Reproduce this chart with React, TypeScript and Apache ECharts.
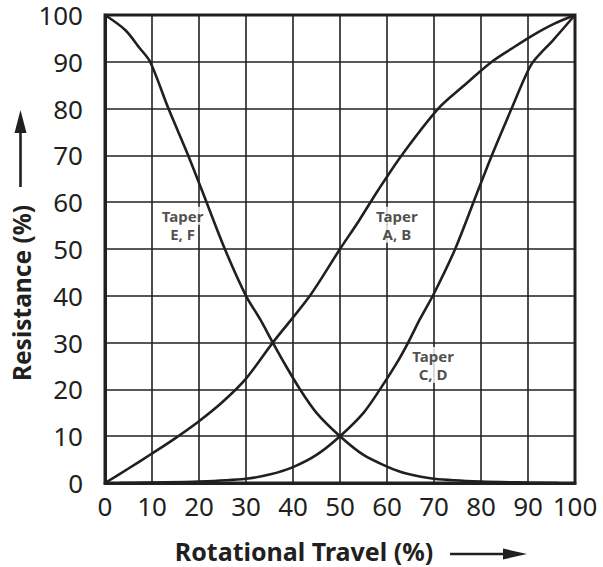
import React, { useEffect, useRef } from "react";
import * as echarts from "echarts";

const xTicks = [0, 10, 20, 30, 40, 50, 60, 70, 80, 90, 100];

const taperAB: [number, number][] = [
  [0, 0], [5, 3.1], [10, 6.3], [15, 9.6], [20, 13.2], [25, 17.3], [30, 22.3],
  [35.7, 30], [43.6, 40], [50, 50], [54, 56], [58, 62.4], [63.1, 70], [70.9, 80],
  [76, 84.6], [82.3, 90], [86.5, 92.8], [91.1, 95.7], [95.5, 98.1], [100, 100],
];

const taperCD: [number, number][] = [
  [3, 0], [10, 0.1], [20, 0.3], [30, 0.9], [35, 1.8], [40, 3.4], [45, 6], [50, 10],
  [55, 15], [58.5, 20], [62, 25.5], [64.5, 30], [67, 35], [70, 40.5], [74.5, 50],
  [79.4, 62.6], [82.3, 70], [86.5, 80], [89.4, 86.8], [91.1, 90], [95.4, 94.7], [100, 100],
];

const taperEF: [number, number][] = [
  [0, 100], [4.3, 96.8], [7.4, 92.9], [9.6, 90], [13.5, 80], [17.7, 70], [20.6, 62.6],
  [25.5, 50], [30, 40], [33, 35], [35.7, 30], [38.5, 25], [41.5, 20], [45, 15], [50, 10],
  [55, 6], [60, 3.5], [62.8, 2.4], [65, 1.8], [70, 0.9], [80, 0.3], [90, 0.1], [96.5, 0],
];

const labelX = [16.5, 62.1, 69.8];
const labelY = [55.2, 55.2, 25.2];
const labelLine1 = ["Taper", "Taper", "Taper"];
const labelLine2 = ["E, F", "A, B", "C, D"];

const INK = "#231f20";
const FONT = "'Noto Sans', sans-serif";

export default function App() {
  const ref = useRef<HTMLDivElement>(null);
  useEffect(() => {
    if (!ref.current) return;
    const chart = echarts.init(ref.current, undefined, { renderer: "svg" });
    const lineSeries = (name: string, data: [number, number][]) => ({
      name,
      type: "line",
      data,
      showSymbol: false,
      smooth: 0.3,
      z: 3,
      lineStyle: { color: INK, width: 2.6 },
    });
    const labelStyle = {
      show: true,
      position: "inside",
      formatter: (p: any) => p.value[2],
      color: INK,
      fontSize: 15,
      fontWeight: "bold",
      fontFamily: FONT,
      lineHeight: 16,
      align: "center",
      backgroundColor: "#fff",
      padding: [1, 2],
    };
    const labelData: any[] = [];
    labelX.forEach((x, i) => {
      labelData.push({ value: [x, labelY[i], labelLine1[i]], label: { offset: [0, -9] } });
      labelData.push({ value: [x, labelY[i], labelLine2[i]], label: { offset: [0, 9] } });
    });
    chart.setOption({
      animation: false,
      backgroundColor: "#fff",
      grid: {
        left: 105, right: 28, top: 15, bottom: 84,
        show: true, borderColor: INK, borderWidth: 3,
      },
      xAxis: {
        type: "value", min: 0, max: 100, interval: 10,
        axisLine: { show: true, lineStyle: { color: INK, width: 3 } },
        axisTick: { show: false },
        splitLine: { show: true, lineStyle: { color: INK, width: 1.6 } },
        axisLabel: {
          color: INK, fontSize: 26, lineHeight: 26, fontFamily: FONT, margin: 10,
          formatter: (v: number) => (xTicks.includes(v) ? String(v) : ""),
        },
      },
      yAxis: {
        type: "value", min: 0, max: 100, interval: 10,
        axisLine: { show: true, lineStyle: { color: INK, width: 3 } },
        axisTick: { show: false },
        splitLine: { show: true, lineStyle: { color: INK, width: 1.6 } },
        axisLabel: { color: INK, fontSize: 26, lineHeight: 26, fontFamily: FONT, margin: 22 },
      },
      series: [
        lineSeries("Taper A, B", taperAB),
        lineSeries("Taper C, D", taperCD),
        lineSeries("Taper E, F", taperEF),
        {
          type: "scatter",
          z: 2,
          symbolSize: 0,
          data: labelData,
          label: labelStyle,
        },
      ],
      graphic: [
        {
          type: "text", x: 21, y: 293, rotation: Math.PI / 2,
          style: {
            text: "Resistance (%)", fill: INK, fontSize: 24.5, fontWeight: "bold",
            fontFamily: FONT, textAlign: "center", textVerticalAlign: "middle",
          },
        },
        { type: "line", shape: { x1: 20.5, y1: 187, x2: 20.5, y2: 130 }, style: { stroke: INK, lineWidth: 2.6 } },
        { type: "polygon", shape: { points: [[14.5, 133], [26.5, 133], [20.5, 110]] }, style: { fill: INK } },
        {
          type: "text", x: 304, y: 551,
          style: {
            text: "Rotational Travel (%)", fill: INK, fontSize: 25, fontWeight: "bold",
            fontFamily: FONT, textAlign: "center", textVerticalAlign: "middle",
          },
        },
        { type: "line", shape: { x1: 450, y1: 554, x2: 506, y2: 554 }, style: { stroke: INK, lineWidth: 2.6 } },
        { type: "polygon", shape: { points: [[503, 548.5], [503, 559.5], [527, 554]] }, style: { fill: INK } },
      ],
    });
    return () => chart.dispose();
  }, []);
  return <div ref={ref} style={{ width: 603, height: 567, position: "absolute", left: 0, top: 0 }} />;
}
